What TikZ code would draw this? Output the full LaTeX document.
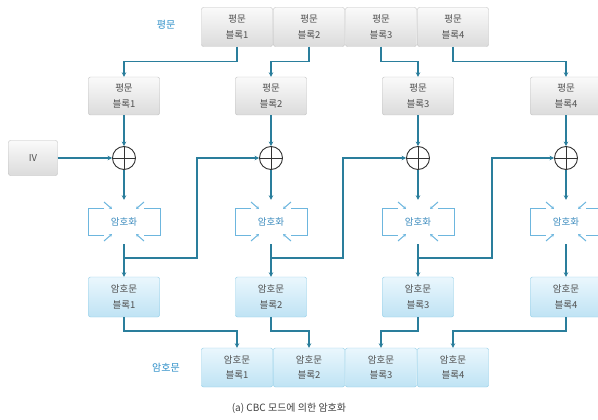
\documentclass[tikz,border=0pt]{standalone}
\usepackage{fontspec}
\setmainfont{Noto Sans CJK KR}
\usetikzlibrary{arrows.meta,calc}
\definecolor{lineC}{HTML}{2A7E9C}
\definecolor{textC}{HTML}{505050}
\definecolor{labelC}{HTML}{2E8FC8}
\definecolor{encC}{HTML}{6DB6DE}
\definecolor{encT}{HTML}{3D8CBE}
\definecolor{cBorder}{HTML}{8CCBE6}
\definecolor{cTop}{HTML}{EAF7FD}
\definecolor{cBot}{HTML}{BFE3F4}
\tikzset{
  pbox/.style={draw=gray!50, rounded corners=2pt, top color=gray!4, bottom color=gray!28,
    minimum width=71pt, minimum height=39pt, align=center, inner sep=0pt,
    font=\fontsize{9.5}{15.5}\selectfont, text=textC},
  cbox/.style={pbox, draw=cBorder, top color=cTop, bottom color=cBot},
  ivbox/.style={pbox, minimum width=49pt, minimum height=35pt},
  flow/.style={draw=lineC, line width=1.6pt, -{Stealth[length=4.5pt,width=4.5pt]}},
  lbl/.style={font=\fontsize{10}{12}\selectfont, text=labelC},
  encnode/.style={minimum width=72pt, minimum height=44pt, inner sep=0pt,
    font=\fontsize{9.5}{11}\selectfont, text=encT},
  xorc/.style={circle, draw=black!80, line width=0.9pt, minimum size=23pt, inner sep=0pt,
    path picture={\draw[black!80, line width=0.9pt]
      (path picture bounding box.north) -- (path picture bounding box.south)
      (path picture bounding box.west) -- (path picture bounding box.east);}},
  encline/.style={draw=encC, line width=1pt},
  encarr/.style={encline, -{Stealth[length=3pt,width=3.5pt]}},
}
\newcommand\encsym[2]{%
  \node[encnode] (#1) at (#2) {암호화};
  \begin{scope}[shift={(#2)}]
    \draw[encline] (-20,-14) -- (-36,-14) -- (-36,13) -- (-20,13);
    \draw[encline] (20,-14) -- (36,-14) -- (36,13) -- (20,13);
    \draw[encarr] (-20,-20) -- (-12,-13);
    \draw[encarr] (20,-20) -- (12,-13);
    \draw[encarr] (-20,19) -- (-12,12);
    \draw[encarr] (20,19) -- (12,12);
  \end{scope}}
\begin{document}
\begin{tikzpicture}[x=1pt,y=-1pt]
\useasboundingbox (0,0) rectangle (598,420);
\clip (0,0) rectangle (598,420);
% labels
\node[lbl] (lp) at (166,25) {평문};
\node[lbl] (lc) at (166,368) {암호문};
% top plaintext row
\node[pbox] (p1) at (237,27) {평문\\블록1};
\node[pbox] (p2) at (309,27) {평문\\블록2};
\node[pbox] (p3) at (381,27) {평문\\블록3};
\node[pbox] (p4) at (453,27) {평문\\블록4};
% second row plaintext
\node[pbox, minimum height=38pt] (P1) at (124,96) {평문\\블록1};
\node[pbox, minimum height=38pt] (P2) at (271,96) {평문\\블록2};
\node[pbox, minimum height=38pt] (P3) at (418,96) {평문\\블록3};
\node[pbox, minimum height=38pt] (P4) at (566,96) {평문\\블록4};
% IV
\node[ivbox] (iv) at (33,158) {IV};
% xor
\node[xorc] (x1) at (124,158) {};
\node[xorc] (x2) at (271,158) {};
\node[xorc] (x3) at (418,158) {};
\node[xorc] (x4) at (566,158) {};
% encryption
\encsym{e1}{124,222}
\encsym{e2}{271,222}
\encsym{e3}{418,222}
\encsym{e4}{566,222}
% cipher mid row
\node[cbox, minimum height=40pt] (c1) at (124,297) {암호문\\블록1};
\node[cbox, minimum height=40pt] (c2) at (271,297) {암호문\\블록2};
\node[cbox, minimum height=40pt] (c3) at (418,297) {암호문\\블록3};
\node[cbox, minimum height=40pt] (c4) at (566,297) {암호문\\블록4};
% bottom cipher row
\node[cbox] (C1) at (237,367.5) {암호문\\블록1};
\node[cbox] (C2) at (309,367.5) {암호문\\블록2};
\node[cbox] (C3) at (381,367.5) {암호문\\블록3};
\node[cbox] (C4) at (453,367.5) {암호문\\블록4};
% caption
\node[font=\fontsize{10}{12}\selectfont, text=black!75] (cap) at (289,408) {(a) CBC 모드에 의한 암호화};
% tap coordinates
\coordinate (t1) at (124,258);
\coordinate (t2) at (271,258);
\coordinate (t3) at (418,258);
% connectors
\foreach \i in {1,2,3,4} {
  \draw[flow] (p\i.south) -- ++(0,15) -| (P\i.north);
  \draw[flow] (P\i.south) -- (x\i.north);
  \draw[flow] (x\i.south) -- (e\i.north);
  \draw[flow] (e\i.south) -- (c\i.north);
  \draw[flow] (c\i.south) -- ++(0,14) -| (C\i.north);
}
\draw[flow] (iv.east) -- (x1.west);
\draw[flow] (t1) -- ++(73,0) |- (x2.west);
\draw[flow] (t2) -- ++(72,0) |- (x3.west);
\draw[flow] (t3) -- ++(74,0) |- (x4.west);
\end{tikzpicture}
\end{document}
